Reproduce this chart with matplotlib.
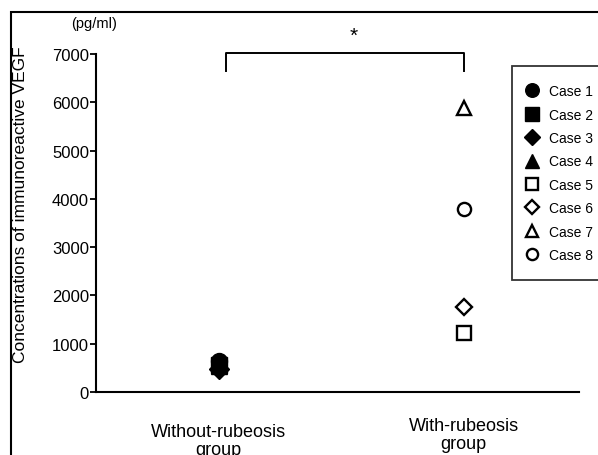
import numpy as np
import matplotlib as mpl
mpl.use("Agg")
import matplotlib.pyplot as plt
from matplotlib.patches import Rectangle

plt.rcParams['font.family'] = ['Liberation Sans', 'DejaVu Sans']

groups = ['Without-rubeosis\ngroup', 'With-rubeosis\ngroup']
cases = ['Case 1', 'Case 2', 'Case 3', 'Case 4', 'Case 5', 'Case 6', 'Case 7', 'Case 8']
case_group = [0, 0, 0, 0, 1, 1, 1, 1]
vegf = [640, 560, 480, 540, 1220, 1760, 5880, 3800]
markers = ['o', 's', 'D', '^', 's', 'D', '^', 'o']
filled = [True, True, True, True, False, False, False, False]

W, H = 598, 456
fig = plt.figure(figsize=(W / 100, H / 100), dpi=100)
ax = fig.add_axes([96 / W, 1 - 393 / H, (579 - 96) / W, (393 - 55) / H])

for g, v, m, f, lab in zip(case_group, vegf, markers, filled, cases):
    sz = 11.5 if m != 'D' else 10
    if f:
        ax.plot(g, v, marker=m, ms=sz, color='black', ls='none', label=lab)
    else:
        ax.plot(g, v, marker=m, ms=sz - 2, mfc='white', mec='black', mew=1.7,
                ls='none', label=lab)

ax.set_xlim(-0.5, 1.47)
ax.set_ylim(0, 7000)
ax.set_yticks(np.arange(0, 7001, 1000))
ax.tick_params(axis='y', direction='out', length=4, width=1.3, labelsize=12, pad=1)
ax.set_xticks([])
for s in ['top', 'right']:
    ax.spines[s].set_visible(False)
for s in ['left', 'bottom']:
    ax.spines[s].set_linewidth(1.5)

# x group labels
ax.text(0, -0.093, groups[0], transform=ax.get_xaxis_transform(), ha='center', va='top',
        fontsize=13, linespacing=1.05)
ax.text(1, -0.075, groups[1], transform=ax.get_xaxis_transform(), ha='center', va='top',
        fontsize=13, linespacing=1.05)

# significance bracket
ax.plot([0.03, 0.03, 1.0, 1.0], [6650, 7020, 7020, 6650], color='black', lw=1.4, clip_on=False)
ax.text(0.55, 7380, '*', ha='center', va='center', fontsize=15, clip_on=False)

fig.text(94 / W, 1 - 24 / H, '(pg/ml)', ha='center', va='center', fontsize=10.5)
fig.text(21 / W, 1 - 205 / H, 'Concentrations of immunoreactive VEGF', rotation=90,
         ha='center', va='center', fontsize=12.5)

# legend box runs past the right edge of the figure, as in the scan
leg = ax.legend(loc='upper left', bbox_to_anchor=(512 / W, 1 - 67 / H, 110 / W, 0),
                bbox_transform=fig.transFigure, mode='expand', fontsize=10, frameon=True,
                fancybox=False, borderpad=1.3, labelspacing=0.68, handlelength=0.3,
                handletextpad=1.05, borderaxespad=0, markerscale=0.85)
leg.get_frame().set_edgecolor('black')
leg.get_frame().set_linewidth(1.3)

# outer frame
fig.add_artist(Rectangle((11 / W, -0.1), 1.2, 1 - 13 / H + 0.1, transform=fig.transFigure,
                         fill=False, ec='black', lw=1.5))

fig.savefig('out.png', dpi=100)
